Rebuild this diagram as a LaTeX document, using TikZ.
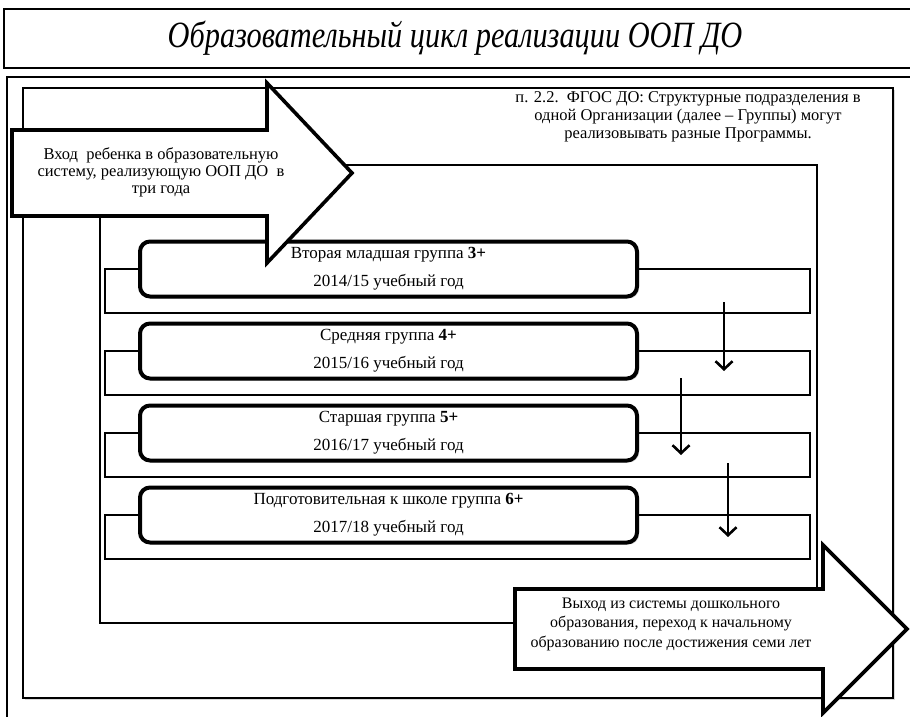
\documentclass[tikz,border=0pt]{standalone}
\usepackage{fontspec}
\setmainfont{Liberation Serif}
\newfontfamily\titlefont[FakeStretch=0.82]{Liberation Serif}
\usetikzlibrary{arrows.meta, shadows}

\begin{document}
\begin{tikzpicture}[x=1pt, y=-1pt,
  grp/.style={draw, fill=white, line width=4pt, rounded corners=10pt, minimum width=497pt, minimum height=55pt, align=center, font=\fontsize{17}{18}\selectfont, drop shadow={shadow xshift=2pt, shadow yshift=-2pt, opacity=.3}},
  brk/.style={line width=2.2pt},
  frm/.style={line width=1.1pt},
  big/.style={draw, fill=white, line width=3.6pt, line join=miter},
  dn/.style={line width=2.6pt, -{Straight Barb[length=8pt, width=17pt]}},
  txt/.style={align=center, font=\fontsize{16.5}{18}\selectfont}]
\useasboundingbox (0,0) rectangle (910,717);
\clip (0,0) rectangle (910,717);
\draw[frm] (4,9) rectangle (930,68);
\node (h1) at (455,38) {\titlefont\itshape\fontsize{37}{37}\selectfont Образовательный цикл реализации ООП ДО};
\draw[frm] (7,740) -- (7,77) -- (930,77);
\draw[frm, fill=white, drop shadow={shadow xshift=2pt, shadow yshift=-2pt, opacity=.3}] (23,88) rectangle (893,698);
\node[txt] (n1) at (688,117) {п. 2.2.\ \ ФГОС ДО: Структурные подразделения в\\одной Организации (далее – Группы) могут\\реализовывать разные Программы.};
\draw[frm] (100,165) rectangle (817,623);
\node[grp] (g1) at (388.5,269) {Вторая младшая группа \textbf{3+}\\[10pt]2014/15 учебный год};
\node[grp] (g2) at (388.5,351) {Средняя группа \textbf{4+}\\[10pt]2015/16 учебный год};
\node[grp] (g3) at (388.5,433) {Старшая группа \textbf{5+}\\[10pt]2016/17 учебный год};
\node[grp] (g4) at (388.5,515) {Подготовительная к школе группа \textbf{6+}\\[10pt]2017/18 учебный год};
\foreach \g in {g1,g2,g3,g4}
  \draw[brk] (\g.west) -- ++(-33,0) -- ++(0,44) -- ++(705,0) -- ++(0,-44) -- (\g.east);
\foreach \x/\p/\q [count=\k] in {724/302/371, 681/378/455, 728/463/537} {
  \coordinate (s\k) at (\x,\p);
  \coordinate (e\k) at (\x,\q);
  \draw[dn] (s\k) -- (e\k);
}
\draw[big] (12,130) -- (267,130) -- (267,83) -- (352,173) -- (267,263) -- (267,216) -- (12,216) -- cycle;
\node[txt, font=\fontsize{16.5}{17}\selectfont] (e1) at (161,172) {Вход\ \ ребенка в образовательную\\систему, реализующую ООП ДО\ \ в\\три года};
\draw[big] (515,589) -- (823,589) -- (823,545) -- (907,629) -- (823,713) -- (823,669) -- (515,669) -- cycle;
\node[txt, font=\fontsize{16}{19.5}\selectfont] (x1) at (671,624) {Выход из системы дошкольного\\образования, переход к начальному\\образованию после достижения семи лет};
\end{tikzpicture}
\end{document}
